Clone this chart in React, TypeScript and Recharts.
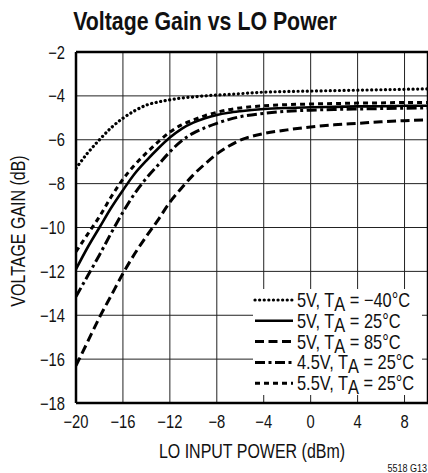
import React from 'react';
import { LineChart, Line, XAxis, YAxis, CartesianGrid, ReferenceLine } from 'recharts';

const loPower = [-20, -19, -18, -17, -16, -15, -14, -13, -12, -11, -10, -9, -8, -7, -6, -4, -2, 0, 2, 4, 6, 8, 10];

// 5V, TA = -40°C
const gainCold = [-7.3, -6.6, -6.0, -5.45, -5.02, -4.68, -4.42, -4.28, -4.18, -4.1, -4.05, -4.0, -3.96, -3.93, -3.9, -3.83, -3.8, -3.78, -3.76, -3.74, -3.72, -3.7, -3.68];
// 5V, TA = 25°C
const gainNom = [-11.9, -10.9, -10.0, -9.1, -8.3, -7.55, -6.95, -6.4, -5.9, -5.5, -5.22, -5.02, -4.87, -4.77, -4.7, -4.6, -4.55, -4.52, -4.5, -4.48, -4.47, -4.45, -4.45];
// 5V, TA = 85°C
const gainHot = [-16.3, -15.2, -14.1, -13.1, -12.1, -11.2, -10.4, -9.65, -8.85, -8.2, -7.6, -7.1, -6.65, -6.3, -6.02, -5.72, -5.55, -5.42, -5.32, -5.25, -5.18, -5.13, -5.1];
// 4.5V, TA = 25°C
const gainLowV = [-13.15, -12.2, -11.25, -10.25, -9.3, -8.45, -7.75, -7.15, -6.55, -6.05, -5.7, -5.45, -5.25, -5.08, -4.95, -4.8, -4.7, -4.65, -4.62, -4.6, -4.58, -4.56, -4.55];
// 5.5V, TA = 25°C
const gainHighV = [-11.1, -10.3, -9.5, -8.6, -7.8, -7.15, -6.6, -6.1, -5.65, -5.32, -5.1, -4.9, -4.75, -4.63, -4.55, -4.45, -4.4, -4.37, -4.35, -4.33, -4.32, -4.3, -4.3];

const xTicks = [-20, -16, -12, -8, -4, 0, 4, 8];
const yTicks = [-2, -4, -6, -8, -10, -12, -14, -16, -18];

const data = loPower.map((p, i) => ({
  power: p,
  cold: gainCold[i],
  nom: gainNom[i],
  hot: gainHot[i],
  lowV: gainLowV[i],
  highV: gainHighV[i],
}));

// no condensed font installed, so squeeze Liberation Sans horizontally
const FONT = "'Liberation Sans', Arial, sans-serif";
const SQUEEZE = 0.82;

const styles = {
  cold: { strokeWidth: 3.2, strokeDasharray: '0.1 4.5', strokeLinecap: 'round' as const },
  nom: { strokeWidth: 2.6 },
  hot: { strokeWidth: 3, strokeDasharray: '9 4.5' },
  lowV: { strokeWidth: 3, strokeDasharray: '10 3.5 3 3.5' },
  highV: { strokeWidth: 3, strokeDasharray: '5 4' },
};

const legendRows = [
  { key: 'cold', pre: '5V, T', post: ' = \u221240\u00b0C' },
  { key: 'nom', pre: '5V, T', post: ' = 25\u00b0C' },
  { key: 'hot', pre: '5V, T', post: ' = 85\u00b0C' },
  { key: 'lowV', pre: '4.5V, T', post: ' = 25\u00b0C' },
  { key: 'highV', pre: '5.5V, T', post: ' = 25\u00b0C' },
];

const minus = (v: number) => String(v).replace('-', '\u2212');

function Narrow({ x, y, size, anchor = 'start', bold, rotate, children }: any) {
  const tf = `translate(${x},${y})${rotate ? ` rotate(${rotate})` : ''} scale(${SQUEEZE},1)`;
  return (
    <text
      transform={tf}
      textAnchor={anchor}
      fontSize={size}
      fontWeight={bold ? 'bold' : 'normal'}
      fontFamily={FONT}
      fill="#111"
    >
      {children}
    </text>
  );
}

const XTick = (props: any) => (
  <Narrow x={props.x} y={props.y + 13} size={18} anchor="middle">
    {minus(props.payload.value)}
  </Narrow>
);

const YTick = (props: any) => (
  <Narrow x={props.x} y={props.y + 6.5} size={18} anchor="end">
    {minus(props.payload.value)}
  </Narrow>
);

export default function App() {
  return (
    <div style={{ position: 'relative', width: 428, height: 473 }}>
      <style>{'body{margin:0}'}</style>
      <LineChart width={428} height={473} data={data} margin={{ top: 52, right: 0, left: 0, bottom: 0 }}>
        <CartesianGrid stroke="#222" strokeWidth={1} />
        <XAxis
          dataKey="power"
          type="number"
          domain={[-20, 10]}
          ticks={xTicks}
          allowDataOverflow
          height={70}
          tickSize={0}
          tickMargin={12}
          tick={XTick}
          axisLine={{ stroke: '#000', strokeWidth: 2.5 }}
        />
        <YAxis
          type="number"
          domain={[-18, -2]}
          ticks={yTicks}
          allowDataOverflow
          width={76}
          tickSize={0}
          tickMargin={11}
          tick={YTick}
          axisLine={{ stroke: '#000', strokeWidth: 2.5 }}
        />
        <ReferenceLine y={-2} stroke="#000" strokeWidth={2.5} />
        <ReferenceLine x={10} stroke="#000" strokeWidth={2.5} />
        {legendRows.map((r) => (
          <Line
            key={r.key}
            type="monotone"
            dataKey={r.key}
            stroke="#000"
            dot={false}
            isAnimationActive={false}
            {...styles[r.key as keyof typeof styles]}
          />
        ))}
      </LineChart>
      <svg width={428} height={473} style={{ position: 'absolute', left: 0, top: 0, pointerEvents: 'none' }}>
        <Narrow x={205} y={30} size={26} anchor="middle" bold>
          Voltage Gain vs LO Power
        </Narrow>
        <Narrow x={252} y={458} size={19.5} anchor="middle">
          LO INPUT POWER (dBm)
        </Narrow>
        <Narrow x={25} y={231} size={19.5} anchor="middle" rotate={-90}>
          VOLTAGE GAIN (dB)
        </Narrow>
        <Narrow x={427} y={472} size={11} anchor="end">
          5518 G13
        </Narrow>
        <g transform="translate(253,289)">
          <rect x={0} y={0} width={169} height={106} fill="#fff" />
          {legendRows.map((r, i) => {
            const cy = 11 + i * 20.8;
            return (
              <g key={r.key}>
                <line x1={2} x2={40} y1={cy} y2={cy} stroke="#000" {...styles[r.key as keyof typeof styles]} />
                <Narrow x={44} y={cy + 7} size={20}>
                  {r.pre}
                  <tspan dy={4}>A</tspan>
                  <tspan dy={-4}>{r.post}</tspan>
                </Narrow>
              </g>
            );
          })}
        </g>
      </svg>
    </div>
  );
}
